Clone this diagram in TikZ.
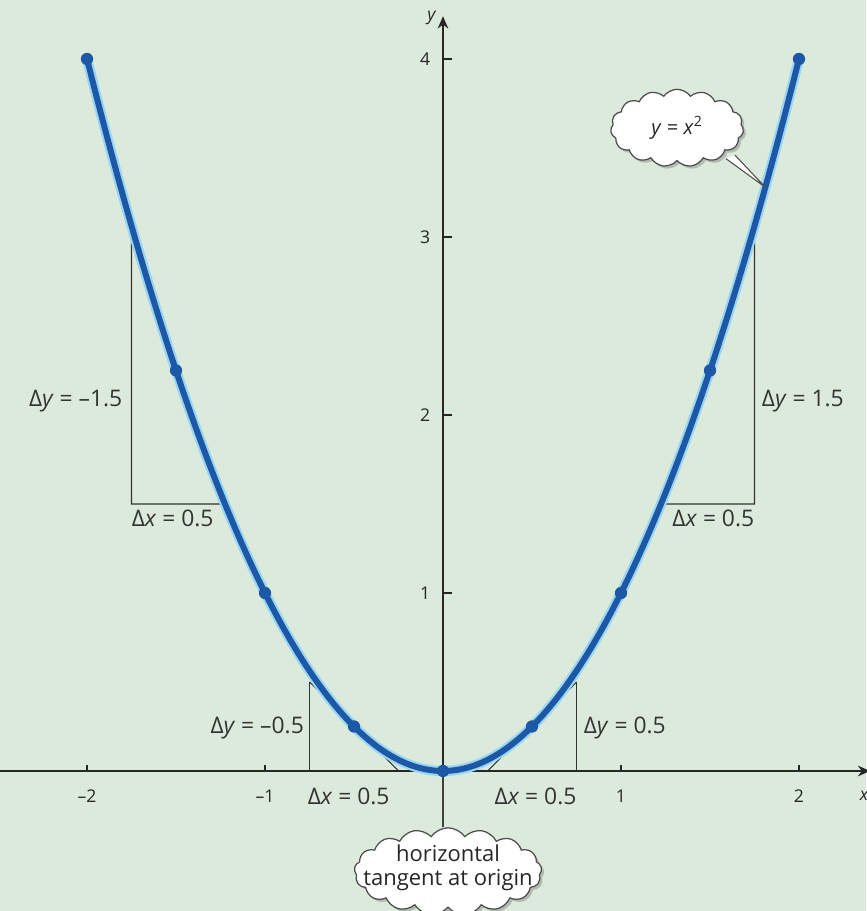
\documentclass[tikz,border=0pt]{standalone}
\usepackage{fontspec}
\setmainfont{Open Sans}
\usetikzlibrary{shapes.symbols,shadows,arrows.meta}
\definecolor{bg}{HTML}{DCEADB}
\definecolor{curveblue}{HTML}{1D58A6}
\definecolor{halo}{HTML}{9AD6F2}
\begin{document}
\begin{tikzpicture}
\fill[bg] (0,0) rectangle (17.32,18.22);
\useasboundingbox (0,0) rectangle (17.32,18.22);
\tikzset{
  axisline/.style={line width=1.1pt, black!85},
  tickline/.style={line width=1.3pt, black!85},
  legline/.style={line width=0.6pt, black!80},
  dlabel/.style={font=\fontsize{13}{15}\selectfont, text=black!80, inner sep=2pt},
  ticklabel/.style={font=\fontsize{10}{12}\selectfont, text=black!85, inner sep=1pt},
  dot/.style={circle, fill=curveblue, inner sep=0pt, minimum size=7pt},
  cloudbox/.style={cloud, cloud ignores aspect, cloud puffs=17, cloud puff arc=110, draw=black!70, line width=0.7pt,
    fill=white, drop shadow={shadow xshift=1.5pt, shadow yshift=-1.5pt, fill=black!40, opacity=0.6},
    align=center, inner sep=0pt},
  cloudtext/.style={align=center, inner sep=0pt, text=black!85}
}
\begin{scope}[shift={(8.86,2.8)}, x=3.56cm, y=3.56cm]
  % axes
  \coordinate (O) at (0,0);
  \coordinate (xend) at (2.40,0);
  \coordinate (xstart) at (-2.49,0);
  \coordinate (ytop) at (0,4.24);
  \draw[axisline, -{Stealth[length=7pt,width=6pt]}] (xstart) -- (xend);
  \draw[axisline, -{Stealth[length=7pt,width=6pt]}] (O) -- (ytop);
  \node[ticklabel, font=\fontsize{10}{12}\selectfont\itshape, anchor=east] (ylab) at (-0.03,4.23) {y};
  \node[ticklabel, font=\fontsize{10}{12}\selectfont\itshape, anchor=west] (xlab) at (2.33,-0.14) {x};
  % ticks
  \foreach \t/\lab in {-2/--2,-1/--1,1/1,2/2}{
    \draw[tickline] (\t,0) -- (\t,0.035);
    \node[ticklabel] (xt\t) at (\t,-0.14) {\lab};
  }
  \foreach \t in {1,2,3,4}{
    \draw[tickline] (0,\t) -- (0.05,\t);
    \node[ticklabel, anchor=east] (yt\t) at (-0.06,\t) {\t};
  }
  % slope triangles (big)
  \coordinate (L1) at (-1.75,3);
  \coordinate (L2) at (-1.75,1.5);
  \coordinate (L3) at (-1.25,1.5);
  \draw[legline] (L1) -- (L2) -- (L3) -- cycle;
  \coordinate (R1) at (1.75,3);
  \coordinate (R2) at (1.75,1.5);
  \coordinate (R3) at (1.25,1.5);
  \draw[legline] (R1) -- (R2) -- (R3) -- cycle;
  % small triangles
  \coordinate (l1) at (-0.75,0.5);
  \coordinate (l2) at (-0.75,0);
  \coordinate (l3) at (-0.25,0);
  \draw[legline] (l1) -- (l2);
  \draw[legline] (l1) -- (l3);
  \draw[line width=1.6pt, black!85] (-0.62,0) -- (l3);
  \coordinate (r1) at (0.75,0.5);
  \coordinate (r2) at (0.75,0);
  \coordinate (r3) at (0.25,0);
  \draw[legline] (r1) -- (r2);
  \draw[legline] (r1) -- (r3);
  % labels
  \node[dlabel, anchor=east] (dyL) at (-1.78,2.08) {Δ\textit{y} = –1.5};
  \node[dlabel, anchor=north west] (dxL) at (-1.77,1.49) {Δ\textit{x} = 0.5};
  \node[dlabel, anchor=west] (dyR) at (1.77,2.08) {Δ\textit{y} = 1.5};
  \node[dlabel, anchor=north east] (dxR) at (1.77,1.49) {Δ\textit{x} = 0.5};
  \node[dlabel, anchor=east] (dyl) at (-0.76,0.24) {Δ\textit{y} = –0.5};
  \node[dlabel] (dxl) at (-0.53,-0.145) {Δ\textit{x} = 0.5};
  \node[dlabel, anchor=west] (dyr) at (0.77,0.24) {Δ\textit{y} = 0.5};
  \node[dlabel] (dxr) at (0.52,-0.145) {Δ\textit{x} = 0.5};
  % curve
  \draw[halo, line width=5.8pt, line cap=round] plot[domain=-2:2, samples=120, smooth] ({\x},{(\x)*(\x)});
  \draw[curveblue, line width=3.4pt, line cap=round] plot[domain=-2:2, samples=120, smooth] ({\x},{(\x)*(\x)});
  \foreach \i in {0,...,8}{
    \pgfmathsetmacro\xx{-2+0.5*\i}
    \node[dot] (p\i) at (\xx,{\xx*\xx}) {};
  }
  % cloud y = x^2
  \node[cloudbox, cloud puffs=15, minimum width=2.66cm, minimum height=1.55cm] (c1) at (1.315,3.612) {};
  \node[cloudtext, font=\fontsize{11.5}{13}\selectfont] (t1) at (c1.center) {\textit{y} = \textit{x}\textsuperscript{2}};
  \coordinate (tip1) at (1.81,3.28);
  \coordinate (b1) at (1.590,3.440);
  \coordinate (b2) at (1.640,3.460);
  \fill[white] (b1) -- (tip1) -- (b2) -- cycle;
  \draw[black!70, line width=0.6pt] (b1) -- (tip1) -- (b2);
  % cloud horizontal tangent
  \node[cloudbox, minimum width=3.75cm, minimum height=1.75cm] (c2) at (0.028,-0.565) {};
  \node[cloudtext, font=\fontsize{12.5}{14.5}\selectfont] (t2) at (0.028,-0.545) {horizontal\\[-1pt]tangent at origin};
  \draw[black!75, line width=0.7pt] (p4) -- (p4 |- c2.north);
\end{scope}
\end{tikzpicture}
\end{document}
